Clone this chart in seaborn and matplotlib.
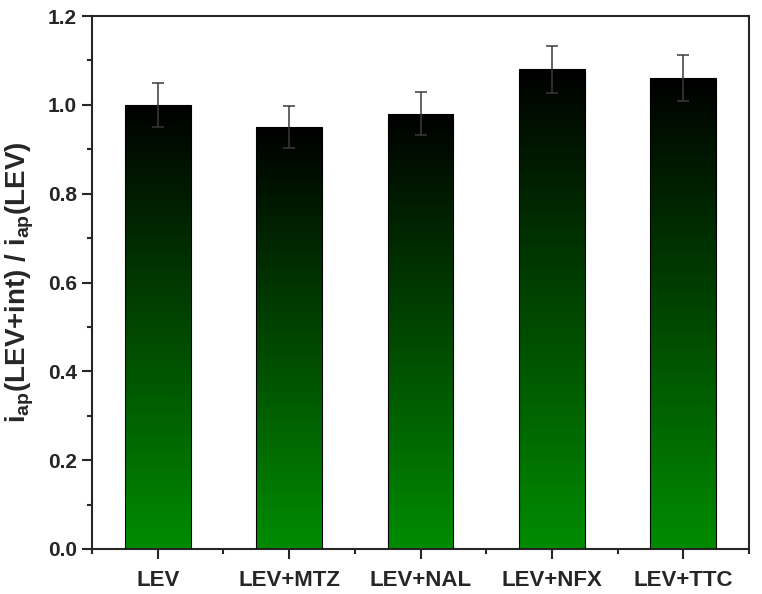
import numpy as np
import pandas as pd
import matplotlib
matplotlib.use("Agg")
import matplotlib.pyplot as plt
import seaborn as sns
from matplotlib.colors import LinearSegmentedColormap
from matplotlib.ticker import MultipleLocator

categories = ["LEV", "LEV+MTZ", "LEV+NAL", "LEV+NFX", "LEV+TTC"]
values = [1.00, 0.95, 0.98, 1.08, 1.06]
errors = [0.050, 0.047, 0.048, 0.053, 0.052]
yticks = [0.0, 0.2, 0.4, 0.6, 0.8, 1.0, 1.2]

sns.set_style("ticks")
plt.rcParams['font.family'] = ['Liberation Sans', 'DejaVu Sans']
plt.rcParams['mathtext.fontset'] = 'custom'
plt.rcParams['mathtext.rm'] = 'Liberation Sans:bold'
plt.rcParams['mathtext.it'] = 'Liberation Sans:bold'
plt.rcParams['mathtext.bf'] = 'Liberation Sans:bold'

df = pd.DataFrame({"cat": categories, "val": values})

fig = plt.figure(figsize=(7.62, 5.94), dpi=100)
ax = fig.add_axes([92/762, 1-549/594, (749-92)/762, (549-16)/594])

sns.barplot(data=df, x="cat", y="val", ax=ax, errorbar=None, width=0.5,
            color="#008c00", edgecolor="black", linewidth=0.8, zorder=2)

cmap = LinearSegmentedColormap.from_list("g", ["#000000", "#008c00"])
grad = np.linspace(0, 1, 256).reshape(-1, 1)
for p in ax.patches:
    x0, y0 = p.get_x(), p.get_y()
    w, h = p.get_width(), p.get_height()
    im = ax.imshow(grad, cmap=cmap, aspect="auto",
                   extent=[x0, x0 + w, y0, y0 + h], origin="upper", zorder=2.5)
    im.set_clip_path(p)
    p.set_facecolor("none")
    p.set_zorder(3)

xs = np.arange(len(categories))
ax.errorbar(xs, values, yerr=errors, fmt="none", ecolor="#3a3a3a",
            elinewidth=1.1, capsize=4, capthick=1.1, zorder=4)

ax.set_xlim(-0.5, len(categories) - 0.5)
ax.set_ylim(0, 1.2)
ax.set_yticks(yticks)
ax.set_yticklabels([f"{t:.1f}" for t in yticks])
ax.yaxis.set_minor_locator(MultipleLocator(0.1))
ax.set_xticks(xs)
ax.set_xticks(np.arange(-0.5, len(categories), 1.0), minor=True)
ax.set_xticklabels(categories)

for s in ax.spines.values():
    s.set_linewidth(1.5)
    s.set_visible(True)
ax.tick_params(axis="both", which="major", direction="out", length=7, width=1.5,
               top=False, right=False)
ax.tick_params(axis="both", which="minor", direction="out", length=3.8, width=1.5,
               top=False, right=False)
ax.tick_params(axis="y", labelsize=15, pad=4)
ax.tick_params(axis="x", labelsize=16, pad=8)
for lab in ax.get_xticklabels() + ax.get_yticklabels():
    lab.set_fontweight("bold")

ax.set_xlabel("")
ax.set_ylabel(r"i$_{\mathrm{ap}}$(LEV+int) / i$_{\mathrm{ap}}$(LEV)",
              fontsize=20, fontweight="bold", labelpad=8)

fig.savefig("out.png", dpi=100)
